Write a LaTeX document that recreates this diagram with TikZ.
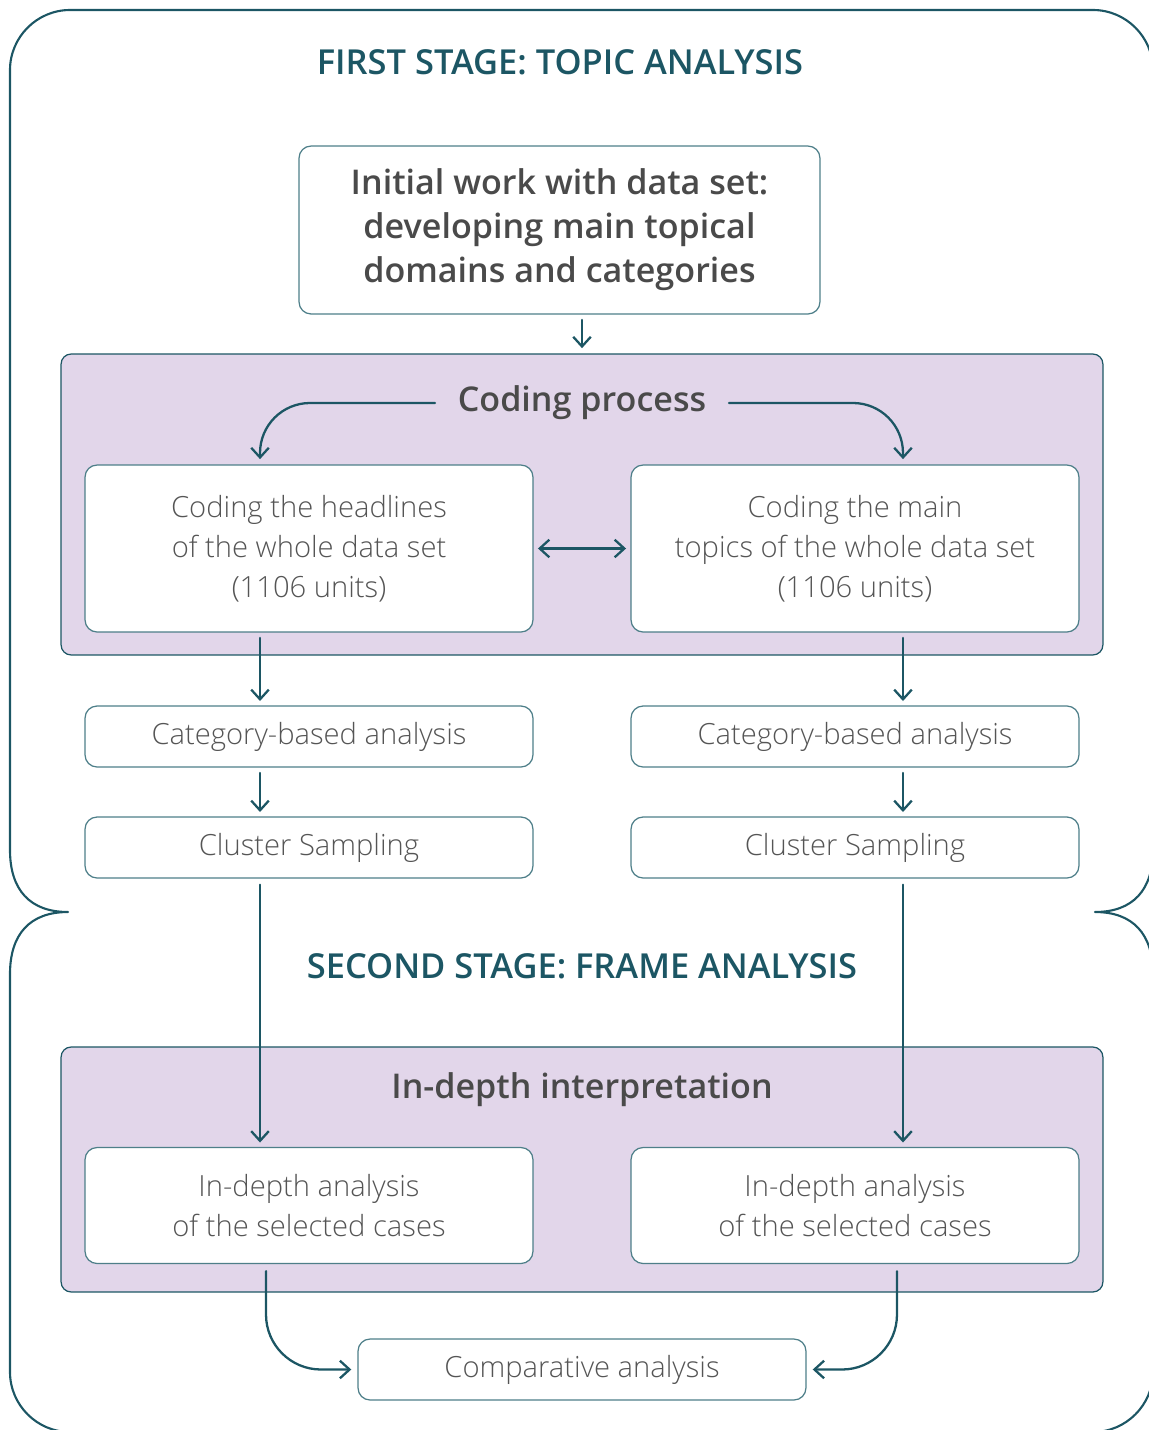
\documentclass[tikz,border=0pt]{standalone}
\usepackage{fontspec}
\setmainfont{Open Sans}[UprightFont={* Light},BoldFont={* Semibold}]
\usepackage{xcolor}
\usepackage{tikz}
\usetikzlibrary{calc,arrows.meta,positioning}
\definecolor{teal}{HTML}{1C5664}
\definecolor{boxline}{HTML}{4E7F89}
\definecolor{panelbg}{HTML}{E2D6EA}
\definecolor{bodytext}{HTML}{555555}
\definecolor{headtext}{HTML}{4A4A4A}
\tikzset{
  frame/.style={draw=teal, line width=1.2pt, line join=round},
  panel/.style={draw=teal, line width=0.7pt, fill=panelbg, rounded corners=0.2cm, inner sep=0pt},
  box/.style={draw=boxline, line width=0.7pt, fill=white, rounded corners=0.24cm, inner sep=0pt,
    text=bodytext, align=center, font=\fontsize{16.6}{22.7}\selectfont, minimum width=8.96cm},
  headbox/.style={box, text=headtext, font=\fontsize{19.4}{25}\selectfont\bfseries},
  head/.style={text=headtext, font=\fontsize{19.4}{25}\selectfont\bfseries, inner xsep=0.45cm},
  stage/.style={text=teal, font=\fontsize{19.6}{24}\selectfont\bfseries},
  barb/.tip={Straight Barb[length=5.5pt,width=10pt,line width=1.3pt]},
  arr/.style={draw=teal, line width=1.3pt, line cap=round, -barb},
}
\begin{document}
\begin{tikzpicture}[x=0.02cm, y=-0.02cm]
  \useasboundingbox (0,0) rectangle (1149,1430);
  \clip (0,0) rectangle (1149,1430);
  % outer frame with the two stages
  \draw[frame] (68,912) .. controls (30,912) and (10,890) .. (10,850) -- (10,70)
    .. controls (10,37) and (37,10) .. (70,10) -- (1093,10)
    .. controls (1126,10) and (1153,37) .. (1153,70) -- (1153,850)
    .. controls (1153,890) and (1133,912) .. (1095,912)
    .. controls (1133,912) and (1153,934) .. (1153,974) -- (1153,1372)
    .. controls (1153,1405) and (1126,1432) .. (1093,1432) -- (70,1432)
    .. controls (37,1432) and (10,1405) .. (10,1372) -- (10,974)
    .. controls (10,934) and (30,912) .. (68,912) -- cycle;

  \node[stage] (stage1) at (560,62) {FIRST STAGE: TOPIC ANALYSIS};
  \node[headbox, minimum width=10.42cm, minimum height=3.36cm] (init) at (559.5,230)
    {Initial work with data set:\\developing main topical\\domains and categories};

  % coding process
  \node[panel, minimum width=20.84cm, minimum height=6.02cm] (coding) at (582,504.5) {};
  \node[head] (codlbl) at (582,403) {Coding process};
  \node[box, minimum height=3.34cm] (headA) at (309,548.5)
    {Coding the headlines\\of the whole data set\\(1106 units)};
  \node[box, minimum height=3.34cm] (topB) at (855,548.5)
    {Coding the main\\topics of the whole data set\\(1106 units)};
  \node[box, minimum height=1.22cm] (catA) at (309,736.5) {Category-based analysis};
  \node[box, minimum height=1.22cm] (catB) at (855,736.5) {Category-based analysis};
  \node[box, minimum height=1.22cm] (clusA) at (309,847.5) {Cluster Sampling};
  \node[box, minimum height=1.22cm] (clusB) at (855,847.5) {Cluster Sampling};

  \node[stage] (stage2) at (582,966) {SECOND STAGE: FRAME ANALYSIS};

  % in-depth interpretation
  \node[panel, minimum width=20.84cm, minimum height=4.9cm] (interp) at (582,1169.5) {};
  \node[head] (intlbl) at (582,1090) {In-depth interpretation};
  \node[box, minimum height=2.32cm] (deepA) at (309,1205.5)
    {In-depth analysis\\of the selected cases};
  \node[box, minimum height=2.32cm] (deepB) at (855,1205.5)
    {In-depth analysis\\of the selected cases};
  \node[box, minimum height=1.22cm] (comp) at (582,1369.5) {Comparative analysis};

  % connectors
  \draw[arr, shorten <=3pt, shorten >=3pt] (init.south -| coding.north) -- (coding.north);
  \draw[arr, rounded corners=1cm, shorten >=3pt] (codlbl.west) -| ([xshift=-0.98cm]headA.north);
  \draw[arr, rounded corners=1cm, shorten >=3pt] (codlbl.east) -| ([xshift=0.96cm]topB.north);
  \draw[arr, barb-barb, shorten <=2.5pt, shorten >=2.5pt] (headA.east) -- (topB.west);
  \draw[arr, shorten <=3pt, shorten >=2.5pt] ([xshift=-0.98cm]headA.south) -- ([xshift=-0.98cm]catA.north);
  \draw[arr, shorten <=3pt, shorten >=2.5pt] ([xshift=0.96cm]topB.south) -- ([xshift=0.96cm]catB.north);
  \draw[arr, shorten <=3pt, shorten >=2.5pt] ([xshift=-0.98cm]catA.south) -- ([xshift=-0.98cm]clusA.north);
  \draw[arr, shorten <=3pt, shorten >=2.5pt] ([xshift=0.96cm]catB.south) -- ([xshift=0.96cm]clusB.north);
  \draw[arr, shorten <=3.5pt, shorten >=2.5pt] ([xshift=-0.98cm]clusA.south) -- ([xshift=-0.98cm]deepA.north);
  \draw[arr, shorten <=3.5pt, shorten >=2.5pt] ([xshift=0.96cm]clusB.south) -- ([xshift=0.96cm]deepB.north);
  \draw[arr, rounded corners=1.1cm, shorten <=4pt, shorten >=3.5pt] ([xshift=-0.86cm]deepA.south) |- (comp.west);
  \draw[arr, rounded corners=1.1cm, shorten <=4pt, shorten >=3.5pt] ([xshift=0.84cm]deepB.south) |- (comp.east);
\end{tikzpicture}
\end{document}
